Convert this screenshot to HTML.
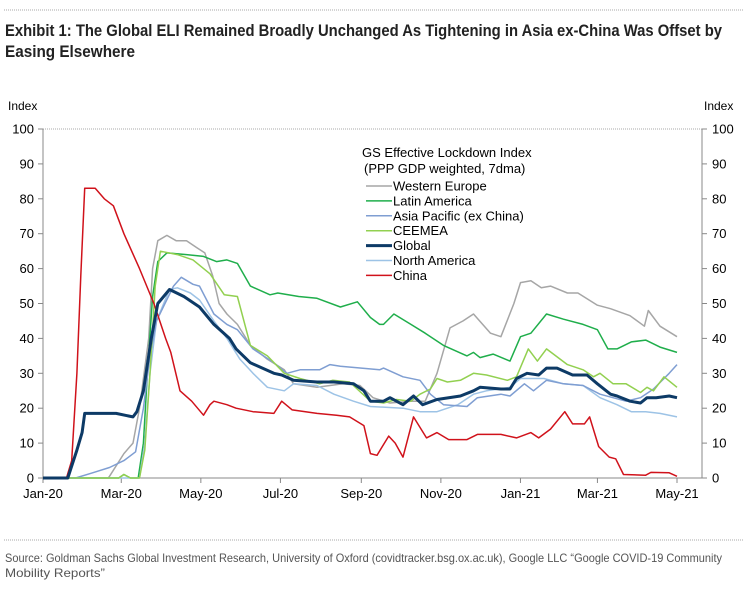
<!DOCTYPE html>
<html><head><meta charset="utf-8"><style>
html,body{margin:0;padding:0;background:#fff;}
svg{display:block;font-family:"Liberation Sans",Arial,sans-serif;}
</style></head><body>
<svg id="chart" width="748" height="591" viewBox="0 0 748 591">
<line x1="4" y1="10" x2="744" y2="10" stroke="#aaa" stroke-width="1" stroke-dasharray="1,1"/>
<text x="5" y="36" font-size="17" font-weight="bold" fill="#222" textLength="717" lengthAdjust="spacingAndGlyphs">Exhibit 1: The Global ELI Remained Broadly Unchanged As Tightening in Asia ex-China Was Offset by</text>
<text x="5" y="57" font-size="17" font-weight="bold" fill="#222" textLength="130" lengthAdjust="spacingAndGlyphs">Easing Elsewhere</text>
<text x="8" y="110" font-size="12" fill="#000">Index</text>
<text x="704" y="110" font-size="12" fill="#000">Index</text>
<rect x="43" y="129" width="659" height="349" fill="none" stroke="#aaa" stroke-width="1" stroke-dasharray="1,1"/>
<line x1="43" y1="129" x2="43" y2="478" stroke="#888"/>
<line x1="702" y1="129" x2="702" y2="478" stroke="#888"/>
<line x1="43" y1="478" x2="702" y2="478" stroke="#888"/>
<g id="axes"></g>
<g id="series"></g>
<g id="legend">
<text x="362" y="157" font-size="13" fill="#000">GS Effective Lockdown Index</text>
<text x="364" y="173" font-size="13" fill="#000">(PPP GDP weighted, 7dma)</text>
</g>
<line x1="4" y1="540" x2="744" y2="540" stroke="#aaa" stroke-width="1" stroke-dasharray="1,1"/>
<text x="5" y="562" font-size="12" fill="#555" textLength="717" lengthAdjust="spacingAndGlyphs">Source: Goldman Sachs Global Investment Research, University of Oxford (covidtracker.bsg.ox.ac.uk), Google LLC “Google COVID-19 Community</text>
<text x="5" y="577" font-size="12" fill="#555" textLength="100" lengthAdjust="spacingAndGlyphs">Mobility Reports”</text>
</svg>
<script>
const yTicks=[0,10,20,30,40,50,60,70,80,90,100];
const xTickLabels=["Jan-20","Mar-20","May-20","Jul-20","Sep-20","Nov-20","Jan-21","Mar-21","May-21"];
const xTickDays=[0,60,121,182,244,305,366,425,486];
const seriesNames=["Western Europe","Latin America","Asia Pacific (ex China)","CEEMEA","Global","North America","China"];
const seriesColors=["#a6a6a6","#1fae4b","#7f9ed2","#92d050","#0d3a66","#9dc3e6","#d0121b"];
const seriesWidths=[1.5,1.5,1.5,1.5,3,1.5,1.5];
const weDays=[0,50,51,62,69,74,81,84,88,95,102,110,118,124,130,135,141,149,159,172,185,192,210,230,243,253,266,282,293,302,312,322,330,343,351,361,366,374,382,389,402,410,425,435,450,461,464,473,486];
const weVals=[0,0,0.5,7,10,20,40,60,68,69.5,68,68,66,64.5,58,50,47,44,38,34,31,27,26,27,26.5,23,21.5,22,22,30,43,45,47,41.5,40.5,50,56,56.5,54.5,55,53,53,49.5,48.5,46.5,43.5,48,43.5,40.5];
const laDays=[0,58,62,67,73,77,80,84,88,95,110,123,133,141,149,159,174,180,196,210,228,241,251,258,261,269,282,293,307,325,330,335,345,358,366,374,386,399,414,425,433,440,451,462,473,486];
const laVals=[0,0,1,0,0,10,30,52,62,64.5,64,63.5,62,62.5,61.5,55,52.5,53,52,51.5,49,50.5,46,44,44,47,44,41.5,38,35,36,34.5,35.5,33.5,40.5,41.5,47,45.5,44,42.5,37,37,39,39.5,37.5,36];
const apDays=[0,25,38,51,62,71,77,82,87,100,106,115,120,131,141,149,161,177,187,197,212,220,228,258,261,276,289,297,307,325,333,351,358,369,376,386,399,414,427,447,458,468,480,486];
const apVals=[0,0,1.5,3,5,7.5,20,35,45,55,57.5,55.5,55,47,44,42.5,37,33,30,31,31,32.5,32,31,31.5,29,28,24,21,20.5,23,24,23.5,27,25,28,27,26.5,24,22,23,25.5,30,32.5];
const ceDays=[0,58,62,67,74,78,82,86,90,103,115,128,139,149,159,172,185,197,212,222,235,251,261,271,282,289,297,302,310,320,330,340,356,363,372,379,386,402,414,422,427,437,447,458,463,468,476,486];
const ceVals=[0,0,1,0,0,8,30,55,65,64,62.5,58.5,52.5,52,38,35,30,28.5,27,28,27.5,22,21.5,22.5,22,24,25.5,28.5,27.5,28,30,29.5,28,29,37,33.5,37,32.5,31,29,30,27,27,24.5,26,25,29,26];
const glDays=[0,19,26,30,32,56,69,72,77,83,88,97,108,120,131,143,148,159,177,183,192,210,223,238,246,251,261,266,271,276,284,291,302,320,330,335,351,358,363,371,380,386,394,406,417,425,435,440,450,458,463,470,480,486];
const glVals=[0,0,8,13,18.5,18.5,17.5,19,25,40,50,54,52,49,44,40,37,33,30,29.5,28,27.5,27.5,27,25,22,22,23,22,21,23.5,21,22.5,23.5,25,26,25.5,25.5,28.5,30,29.5,31.5,31.5,29.5,29.5,27,24,23.5,22,21.5,23,23,23.5,23];
const naDays=[0,74,78,82,87,97,103,113,120,131,141,151,161,172,185,192,210,223,238,251,276,289,302,318,330,340,358,366,384,399,414,427,440,451,462,473,486];
const naVals=[0,0,10,30,45,54,54.5,53,51,45,40,34,30,26,25,27,26.5,24,22,20.5,20,19,19,21,24,25,26,28.5,28.5,27,26.5,23,21,19,19,18.5,17.5];
const chDays=[0,18,22,26,29,32,40,47,54,62,74,85,94,98,105,114,123,128,131,141,148,161,177,183,191,210,225,235,246,251,256,265,270,276,284,294,302,311,325,333,351,363,374,380,389,400,406,415,419,426,434,439,445,462,466,480,486];
const chVals=[0,0,5,30,58,83,83,80,78,70,60,50,40,36,25,22,18,21,22,21,20,19,18.5,22,19.5,18.5,18,17.5,15,7,6.5,12,10,6,17.5,11.5,13,11,11,12.5,12.5,11.5,13,11.5,14,19,15.5,15.5,17.5,9,6,5.5,1,0.8,1.6,1.5,0.5];
const seriesDays=[weDays,laDays,apDays,ceDays,glDays,naDays,chDays];
const seriesVals=[weVals,laVals,apVals,ceVals,glVals,naVals,chVals];
const NS="http://www.w3.org/2000/svg";
const X0=43,X1=677,MAXDAY=486,Y0=478,Y1=129;
function xScale(d){return X0+d*(X1-X0)/MAXDAY;}
function yScale(v){return Y0-v*(Y0-Y1)/100;}
function mk(tag,attrs,parent){const e=document.createElementNS(NS,tag);for(const k in attrs)e.setAttribute(k,attrs[k]);parent.appendChild(e);return e;}
const axes=document.getElementById('axes');
yTicks.forEach(v=>{
  const y=yScale(v);
  const l=mk('line',{x1:38,y1:y,x2:43,y2:y,stroke:'#888'},axes);
  
  
  const r=mk('line',{x1:702,y1:y,x2:707,y2:y,stroke:'#888'},axes);
  
  
  const t=mk('text',{x:34,y:y+4.5,'font-size':13,'text-anchor':'end',fill:'#000'},axes);
  t.textContent=v;
  
  
  const t2=mk('text',{x:712,y:y+4.5,'font-size':13,fill:'#000'},axes);
  t2.textContent=v;
  
  
});
xTickLabels.forEach((lab,i)=>{
  const x=xScale(xTickDays[i]);
  const l=mk('line',{x1:x,y1:478,x2:x,y2:483,stroke:'#888'},axes);
  
  
  const t=mk('text',{x:x,y:498,'font-size':13,'text-anchor':'middle',fill:'#000'},axes);
  t.textContent=lab;
  
  
});
const sg=document.getElementById('series');
const legend=document.getElementById('legend');
const drawOrder=[0,1,5,2,3,6,4];
drawOrder.forEach(i=>{
  const d=seriesDays[i].map((dd,j)=>(j?'L':'M')+xScale(dd).toFixed(1)+','+yScale(seriesVals[i][j]).toFixed(1)).join(' ');
  const p=mk('path',{d:d,fill:'none',stroke:seriesColors[i],'stroke-width':seriesWidths[i],'stroke-linejoin':'round'},sg);
  
  
});
seriesNames.forEach((n,i)=>{
  const y=186+i*14.9;
  const l=mk('line',{x1:366,y1:y,x2:392,y2:y,stroke:seriesColors[i],'stroke-width':seriesWidths[i]},legend);
  
  
  const t=mk('text',{x:393,y:y+4.5,'font-size':13,fill:'#000'},legend);
  t.textContent=n;
  
  
});
</script>
</body></html>
